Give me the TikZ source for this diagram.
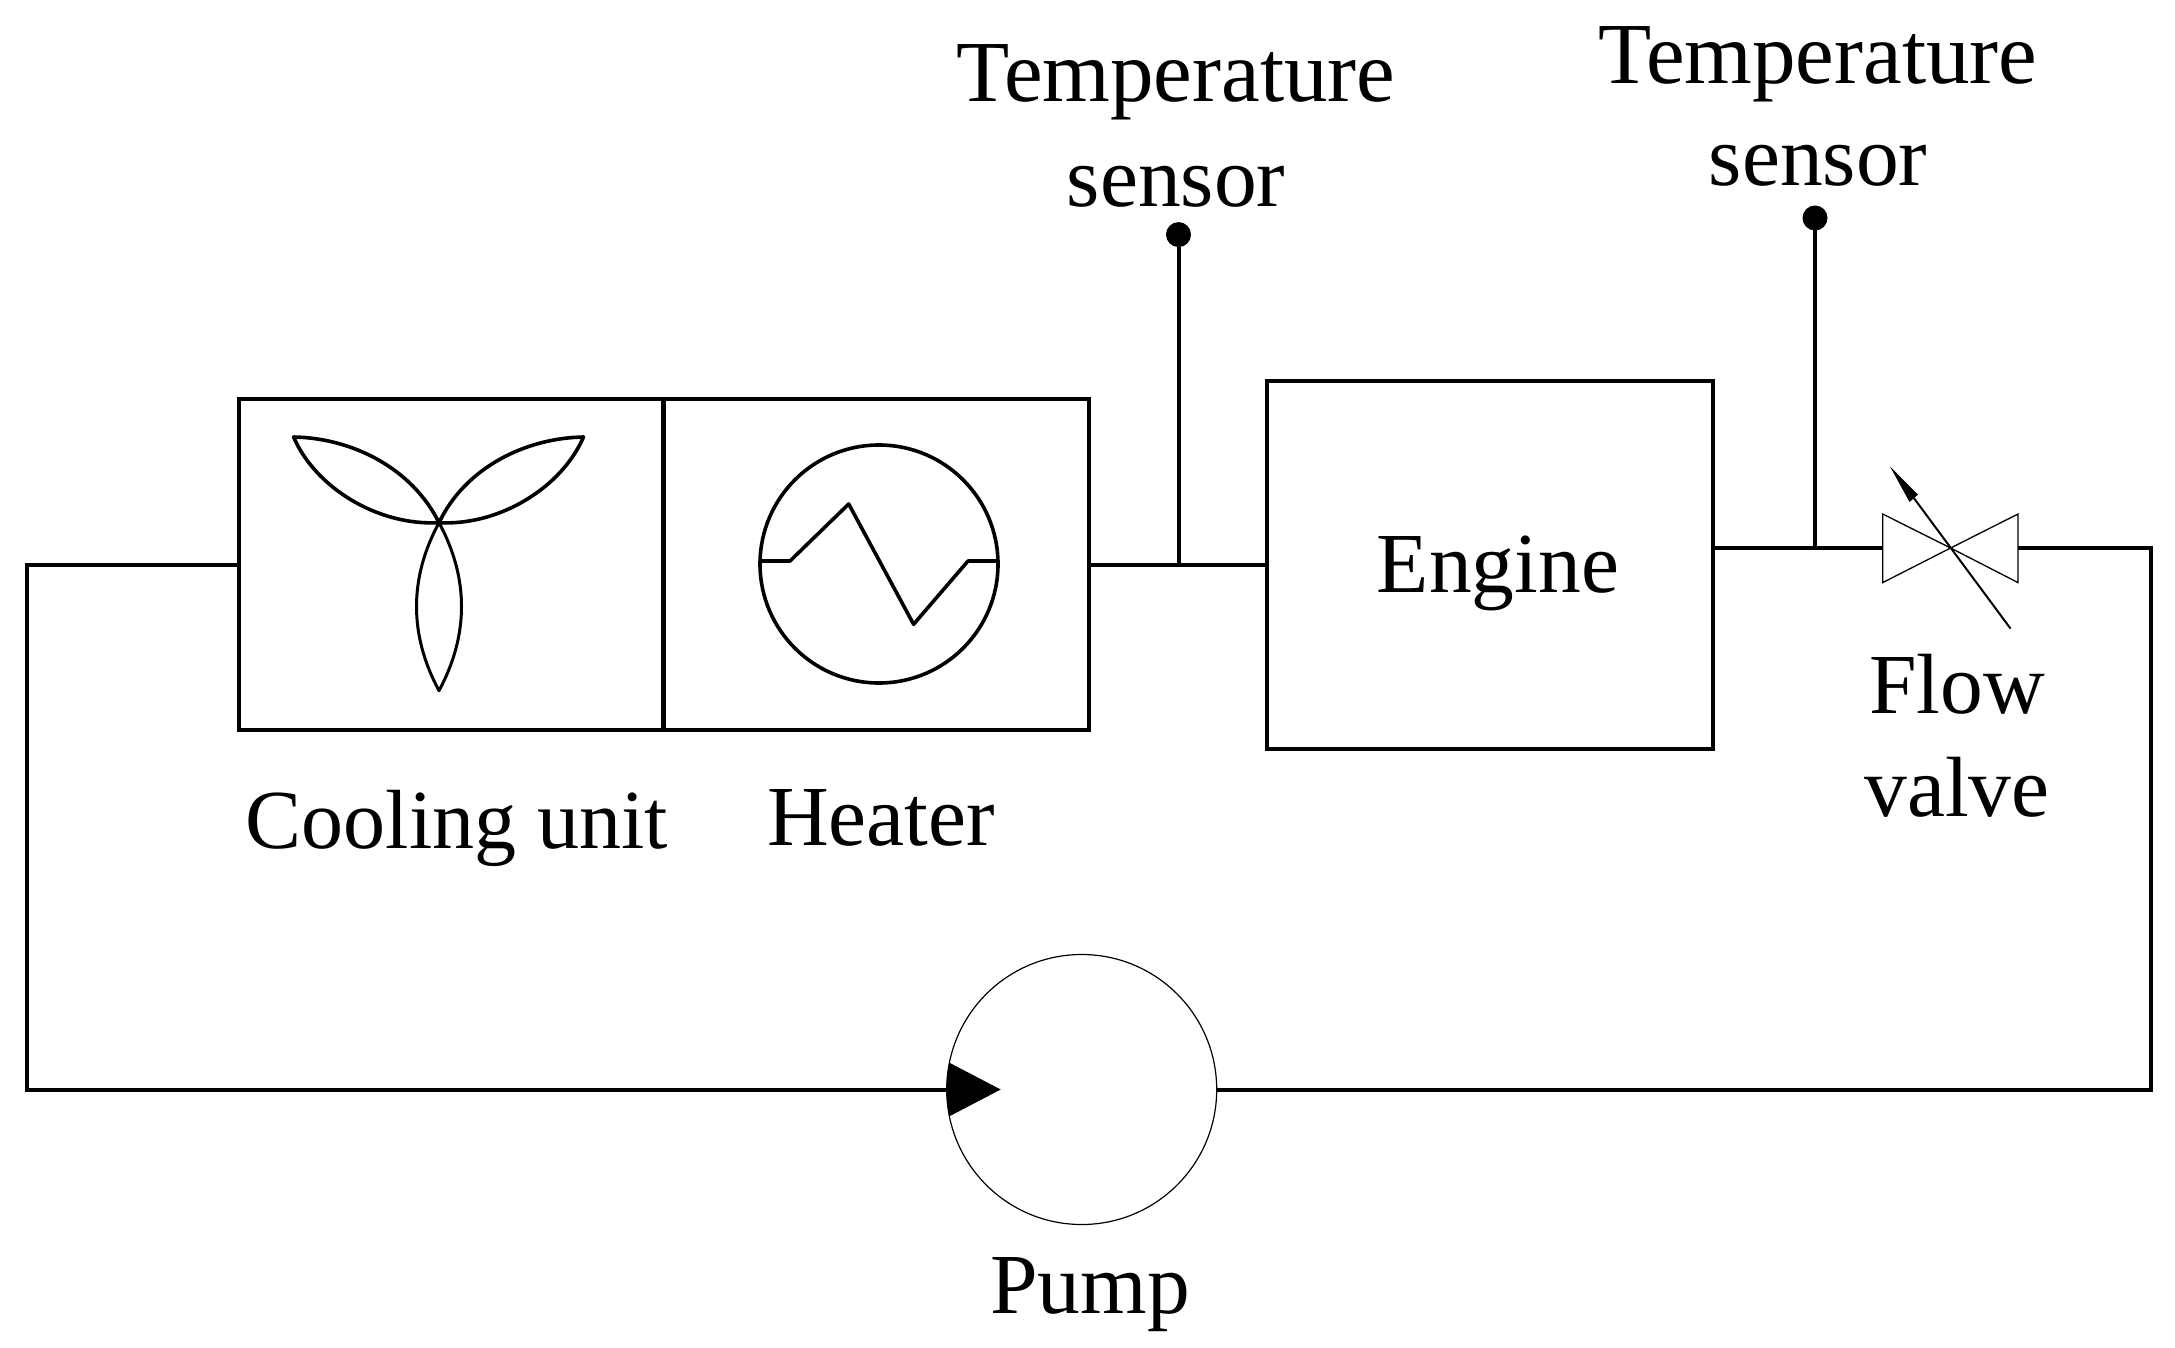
\documentclass[tikz,border=0pt]{standalone}
\usepackage{fontspec}
\setmainfont{Liberation Serif}
\tikzset{
  pipe/.style={line width=4pt},
  thin line/.style={line width=1.3pt},
  box/.style={draw,line width=4pt,rectangle,inner sep=0pt,outer sep=0pt},
  sym/.style={line width=3.6pt,line join=round},
  lab/.style={anchor=base,inner sep=0pt,font=\fontsize{85.5pt}{85.5pt}\selectfont},
  labT/.style={lab,font=\fontsize{87pt}{87pt}\selectfont},
  labC/.style={lab,font=\fontsize{84pt}{84pt}\selectfont},
  dot/.style={circle,fill=black,inner sep=0pt,minimum size=25pt,outer sep=0pt},
}
\begin{document}
\begin{tikzpicture}[x=1pt,y=-1pt]
\useasboundingbox (0,0) rectangle (2175,1348);
% boxes
\node[box,minimum width=425pt,minimum height=331pt] (cool) at (451,564) {};
\node[box,minimum width=425.5pt,minimum height=331pt] (heat) at (876,564) {};
\node[box,minimum width=446pt,minimum height=368pt] (eng) at (1489.5,565) {};
\node[lab] (englab) at (1498,592) {Engine};
% pump
\node[circle,draw,line width=1.2pt,minimum size=270pt,inner sep=0pt,outer sep=0pt] (pump) at (1081.7,1089.5) {};
\begin{scope}
\clip (pump.center) circle (135);
\fill (1000.7,1089.5) -- (930,1052.6) -- (930,1126.4) -- cycle;
\end{scope}
% valve
\coordinate (vw) at (1882.7,548);
\coordinate (ve) at (2018,548);
\coordinate (vc) at (1950.6,548);
\draw[thin line,line join=miter] (vc) -- (1882.7,514) -- (1882.7,582.6) -- cycle;
\draw[thin line,line join=miter] (vc) -- (2018,514) -- (2018,582.6) -- cycle;
\coordinate (vtail) at (2010.5,628.6);
\coordinate (vbase) at (1913.8,498);
\coordinate (vtip) at (1890,466.5);
\draw[line width=2pt] (vtail) -- (vbase);
\fill (vtip) -- (1918,494.6) -- (1909.5,502) -- cycle;
% junctions and corners
\coordinate (j1) at (1178.5,564.5);
\coordinate (j2) at (1815,548);
\node[dot] (s1) at (1178.5,234.6) {};
\node[dot] (s2) at (1815,218) {};
% pipes
\draw[pipe,line join=miter] (cool.west |- 0,564.5) -- (26.5,564.5) -- (26.5,1089.5) -- (pump.west);
\draw[pipe] (heat.east |- 0,564.5) -- (eng.west |- 0,564.5);
\draw[pipe] (j1) -- (s1);
\draw[pipe] (eng.east |- 0,548) -- (vw);
\draw[pipe] (j2) -- (s2);
\draw[pipe,line join=miter] (ve) -- (2150.5,548) -- (2150.5,1089.5) -- (pump.east);
% fan
\coordinate (fc) at (439,522.7);
\draw[sym] (293.6,437) .. controls (352,438) and (412,468) .. (fc) .. controls (465,468) and (525,438) .. (583.5,437) .. controls (562,487) and (500,526) .. (fc) .. controls (377,526) and (315,487) .. (293.6,437) -- cycle;
\draw[sym,line width=3pt] (fc) .. controls (469,578) and (469,635) .. (439,690.7) .. controls (409,635) and (409,578) .. (fc) -- cycle;
% heater symbol
\draw[sym] (879,564) circle (119);
\draw[sym] (760,561) -- (790,561) -- (848.7,504) -- (913.6,624.3) -- (968,561) -- (997,561);
% labels
\node[labT] (t1) at (1176,102) {Temperature};
\node[lab] (t1b) at (1176,207) {sensor};
\node[labT] (t2) at (1818,84) {Temperature};
\node[lab] (t2b) at (1818,186) {sensor};
\node[labC] (cl) at (457,848) {Cooling unit};
\node[lab] (hl) at (881,845) {Heater};
\node[lab] (f1) at (1957,713) {Flow};
\node[lab] (f2) at (1957,816) {valve};
\node[lab] (pl) at (1090,1313) {Pump};
\end{tikzpicture}
\end{document}
